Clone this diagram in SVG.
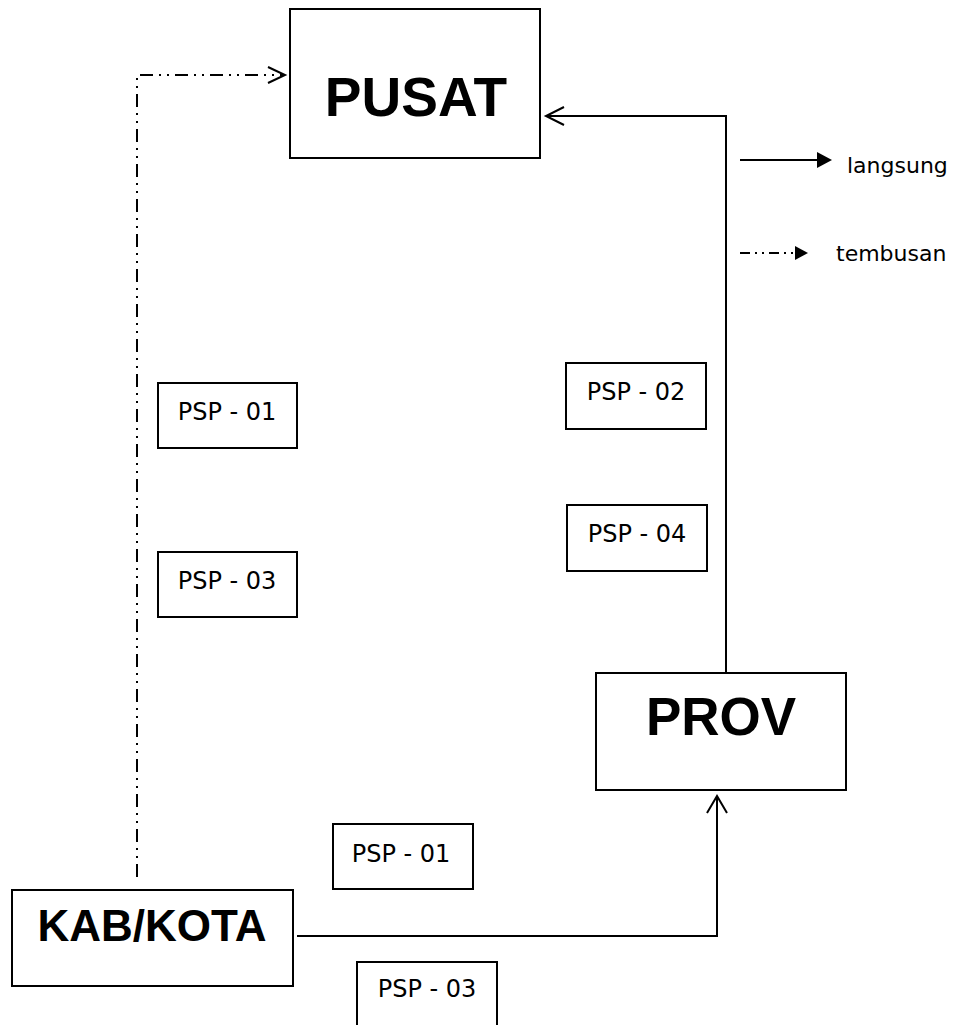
<svg xmlns="http://www.w3.org/2000/svg" width="956" height="1025" viewBox="0 0 956 1025">
<style>
.box{fill:#fff;stroke:#000;stroke-width:2}
.big{font-family:"Liberation Sans",Arial,sans-serif;font-weight:bold;text-anchor:middle;fill:#000}
.small{font-family:"DejaVu Sans",Tahoma,sans-serif;font-size:24px;text-anchor:middle;fill:#000}
.leg{font-family:"DejaVu Sans",Tahoma,sans-serif;font-size:22px;fill:#000}
.line{fill:none;stroke:#000;stroke-width:2}
.dash{fill:none;stroke:#000;stroke-width:2;stroke-dasharray:13 6 2 6 2 6}
.open{fill:none;stroke:#000;stroke-width:2}
</style>
<rect width="956" height="1025" fill="#fff"/>
<g id="connectors">
  <path class="dash" d="M137,877 V75 H283"/>
  <path class="open" d="M268,67 L285,75 L268,83"/>
  <path class="line" d="M726,673 V116 H547"/>
  <path class="open" d="M564,107 L546,116 L564,125"/>
  <path class="line" d="M297,936 H718 M717,936 V797"/>
  <path class="open" d="M707,813 L717,796 L727,813"/>
</g>
<g id="legend">
  <line class="line" x1="740" y1="160" x2="820" y2="160"/>
  <path d="M817,152 L832,160 L817,168 Z" fill="#000"/>
  <text class="leg" x="847" y="173">langsung</text>
  <line class="dash" x1="740" y1="253" x2="795" y2="253" style="stroke-dasharray:10 5 2 5 2 5"/>
  <path d="M795,246 L808,253 L795,260 Z" fill="#000"/>
  <text class="leg" x="836" y="261">tembusan</text>
</g>
<g id="pusat">
  <rect class="box" x="290" y="9" width="250" height="149"/>
  <text class="big" x="416" y="116" font-size="55">PUSAT</text>
</g>
<g id="prov">
  <rect class="box" x="596" y="673" width="250" height="117"/>
  <text class="big" x="721" y="735" font-size="53">PROV</text>
</g>
<g id="kabkota">
  <rect class="box" x="12" y="890" width="281" height="96"/>
  <text class="big" x="152" y="941" font-size="44">KAB/KOTA</text>
</g>
<g id="psp01-left">
  <rect class="box" x="158" y="383" width="139" height="65"/>
  <text class="small" x="227" y="420">PSP - 01</text>
</g>
<g id="psp03-left">
  <rect class="box" x="158" y="552" width="139" height="65"/>
  <text class="small" x="227" y="589">PSP - 03</text>
</g>
<g id="psp02">
  <rect class="box" x="566" y="363" width="140" height="66"/>
  <text class="small" x="636" y="400">PSP - 02</text>
</g>
<g id="psp04">
  <rect class="box" x="567" y="505" width="140" height="66"/>
  <text class="small" x="637" y="542">PSP - 04</text>
</g>
<g id="psp01-bottom">
  <rect class="box" x="333" y="824" width="140" height="65"/>
  <text class="small" x="401" y="862">PSP - 01</text>
</g>
<g id="psp03-bottom">
  <rect class="box" x="357" y="962" width="140" height="66"/>
  <text class="small" x="427" y="997">PSP - 03</text>
</g>
</svg>
